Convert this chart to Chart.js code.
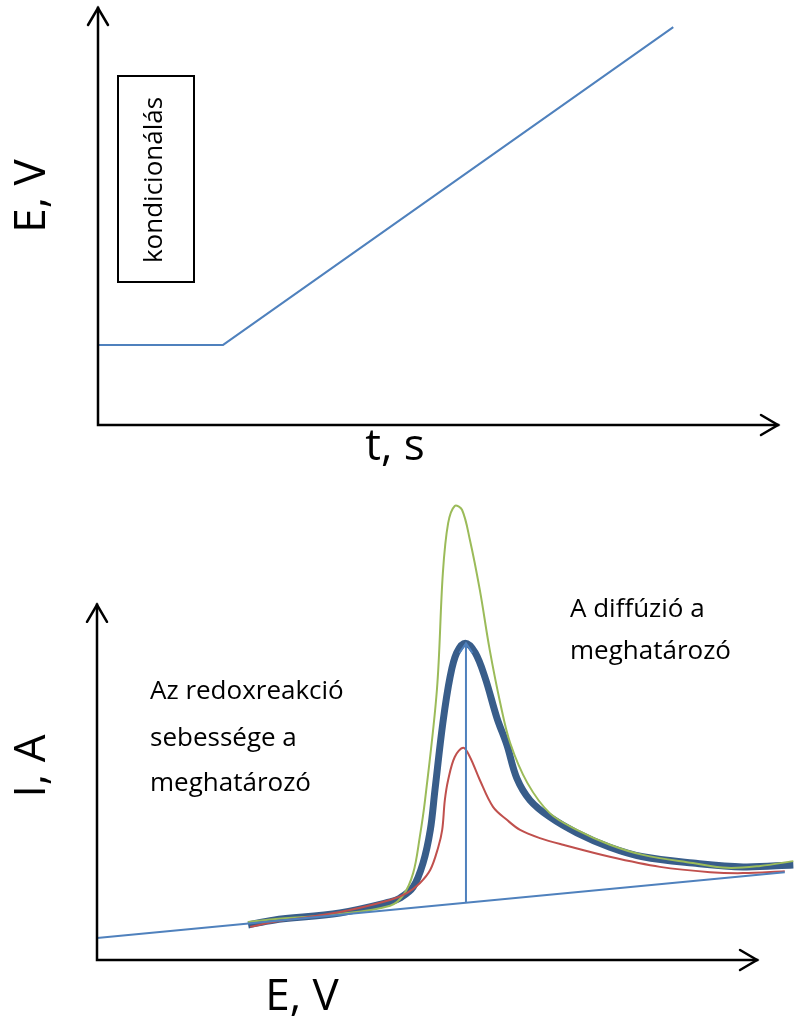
<!DOCTYPE html>
<html>
<head>
<meta charset="utf-8">
<script src="https://cdn.jsdelivr.net/npm/chart.js@4"></script>
<style>
    html, body { margin: 0; padding: 0; background: #fff; }
    #wrap { position: relative; width: 794px; height: 1018px; }
    canvas { position: absolute; left: 0; }
    #chart01 { top: 0; }
    #chart02 { top: 470px; }
</style>
</head>
<body>
<div id="wrap">
    <canvas id="chart01" width="794" height="470"></canvas>
    <canvas id="chart02" width="794" height="548"></canvas>
</div>
<script>
// potential program (top): t and E in relative units, 0..100
const ramp_t = [0, 18.4, 84.6];
const ramp_e = [19.2, 19.2, 95.4];

// voltammograms (bottom): E and I in relative units
const baseline_e = [0, 104.2];
const baseline_i = [4.6, 18.3];

const peak_e = [55.9, 55.9];
const peak_i = [11.9, 66.0];

const mid_e = [22.9, 26.7, 36.8, 44.4, 45.9, 47.9, 49.4, 50.5, 51.2, 52.4, 53.5, 54.5, 55.8, 57.3, 58.8, 60.6, 62.1, 63.6, 65.6, 68.6, 72.7, 77.7, 82.7, 90.3, 97.9, 105.5];
const mid_i = [7.3, 8.3, 9.8, 12.1, 12.9, 15.2, 20.2, 27.1, 35.4, 49.4, 59.0, 64.0, 66.0, 64.0, 58.8, 50.4, 44.8, 37.9, 33.3, 29.8, 26.5, 23.5, 21.5, 20.2, 19.4, 19.8];

const fast_e = [22.9, 26.7, 36.8, 44.4, 46.4, 47.9, 48.9, 49.7, 51.5, 52.4, 53.2, 54.2, 55.3, 56.5, 58.0, 59.5, 61.1, 62.6, 65.2, 68.6, 72.7, 77.7, 82.7, 90.3, 95.5, 100.5, 105.5];
const fast_i = [7.9, 8.5, 9.6, 11.3, 13.5, 18.1, 25.6, 33.3, 56.3, 80.6, 91.0, 94.6, 93.8, 87.5, 77.1, 64.6, 53.5, 45.2, 36.9, 30.6, 27.1, 24.0, 21.9, 20.2, 19.2, 19.6, 20.6];

const slow_e = [23.2, 26.7, 36.8, 44.4, 47.0, 48.9, 50.5, 51.7, 52.3, 52.7, 53.2, 54.2, 55.5, 56.5, 58.0, 60.0, 62.1, 64.1, 67.1, 70.6, 77.7, 85.3, 92.9, 97.9, 104.2];
const slow_i = [6.9, 7.9, 10.0, 12.5, 14.0, 16.0, 18.8, 23.5, 27.1, 33.3, 37.5, 42.3, 44.2, 42.3, 37.5, 31.9, 29.2, 27.1, 25.4, 24.0, 21.5, 19.4, 18.3, 18.1, 18.5];

const FONT = '"Open Sans", "Noto Sans", sans-serif';

function points(xs, ys) {
    return xs.map((x, i) => ({x: x, y: ys[i]}));
}

function arrow_head(ctx, x, y, dir, len, half) {
    ctx.beginPath();
    if (dir == 'up') {
        ctx.moveTo(x - half, y + len);
        ctx.lineTo(x, y);
        ctx.lineTo(x + half, y + len);
    } else {
        ctx.moveTo(x - len, y - half);
        ctx.lineTo(x, y);
        ctx.lineTo(x - len, y + half);
    }
    ctx.stroke();
}

function text(ctx, str, x, y, size, align, rotate) {
    ctx.save();
    ctx.translate(x, y);
    if (rotate) ctx.rotate(-Math.PI / 2);
    ctx.font = `${size}px ${FONT}`;
    ctx.fillStyle = '#000';
    ctx.textAlign = align;
    ctx.textBaseline = 'alphabetic';
    ctx.fillText(str, 0, 0);
    ctx.restore();
}

// axes with open arrow heads plus free text, drawn on top of the datasets
const decor = {
    id: 'decor',
    afterDraw(chart, args, opts) {
        const ctx = chart.ctx;
        const sx = chart.scales.x, sy = chart.scales.y;
        const x0 = sx.getPixelForValue(0), y0 = sy.getPixelForValue(0);
        const xEnd = sx.getPixelForValue(opts.xEnd), yEnd = sy.getPixelForValue(opts.yEnd);
        ctx.save();
        ctx.strokeStyle = '#000';
        ctx.lineWidth = 2.5;
        ctx.lineCap = 'square';
        ctx.beginPath();
        ctx.moveTo(x0, yEnd);
        ctx.lineTo(x0, y0);
        ctx.lineTo(xEnd, y0);
        ctx.stroke();
        ctx.lineCap = 'round';
        arrow_head(ctx, x0, yEnd, 'up', 17, 10);
        arrow_head(ctx, xEnd, y0, 'right', 17, 10);

        if (opts.box) {
            ctx.lineWidth = 2;
            ctx.strokeRect(...opts.box);
        }
        // small arrow at the top of the peak marker
        if (opts.peakArrow !== undefined) {
            const meta = chart.getDatasetMeta(opts.peakArrow);
            const p = meta.data[meta.data.length - 1];
            ctx.strokeStyle = '#4F81BD';
            ctx.lineWidth = 2;
            arrow_head(ctx, p.x, p.y, 'up', 9, 6);
        }
        ctx.restore();

        (opts.labels || []).forEach(l => text(ctx, l.text, l.x, l.y, l.size, l.align, l.rotate));
    }
};

function line(label, xs, ys, color, width, tension) {
    return {
        label: label,
        data: points(xs, ys),
        borderColor: color,
        borderWidth: width,
        pointRadius: 0,
        fill: false,
        clip: false,
        tension: tension,
        borderCapStyle: 'butt',
        borderJoinStyle: 'round'
    };
}

function chart(id, datasets, scales, padding, decorOpts) {
    new Chart(
        document.getElementById(id),
        {
            type: 'line',
            data: {
                datasets: datasets
            },
            options: {
                responsive: false,
                animation: false,
                layout: {
                    padding: padding
                },
                plugins: {
                    legend: {display: false},
                    tooltip: {enabled: false},
                    decor: decorOpts
                },
                scales: scales
            },
            plugins: [decor]
        }
    );
}

chart('chart01',
    [line('E(t)', ramp_t, ramp_e, '#4F81BD', 2, 0)],
    {
        x: {type: 'linear', min: 0, max: 100, display: false},
        y: {type: 'linear', min: 0, max: 100, display: false}
    },
    {left: 98, right: 16, top: 8, bottom: 45},
    {
        xEnd: 100, yEnd: 100,
        box: [118, 76, 76, 206],
        labels: [
            {text: 'E, V', x: 45, y: 196, size: 44, align: 'center', rotate: true},
            {text: 't, s', x: 395, y: 460, size: 44, align: 'center'},
            {text: 'kondicionálás', x: 162, y: 180, size: 26, align: 'center', rotate: true}
        ]
    }
);

chart('chart02',
    [
        line('csúcs', peak_e, peak_i, '#4F81BD', 2, 0),
        line('alapvonal', baseline_e, baseline_i, '#4F81BD', 2, 0),
        line('lassú', slow_e, slow_i, '#C0504D', 2, 0.35),
        line('gyors', fast_e, fast_i, '#9BBB59', 2, 0.35),
        line('közepes', mid_e, mid_i, '#385D8A', 7, 0.35)
    ],
    {
        x: {type: 'linear', min: 0, max: 105.6, display: false},
        y: {type: 'linear', min: 0, max: 100, display: false}
    },
    {left: 97, right: 0, top: 10, bottom: 58},
    {
        xEnd: 100, yEnd: 74,
        peakArrow: 0,
        labels: [
            {text: 'I, A', x: 45, y: 296, size: 44, align: 'center', rotate: true},
            {text: 'E, V', x: 302, y: 540, size: 44, align: 'center'},
            {text: 'Az redoxreakció', x: 150, y: 229, size: 26, align: 'left'},
            {text: 'sebessége a', x: 150, y: 276, size: 26, align: 'left'},
            {text: 'meghatározó', x: 150, y: 321, size: 26, align: 'left'},
            {text: 'A diffúzió a', x: 570, y: 147, size: 26, align: 'left'},
            {text: 'meghatározó', x: 570, y: 189, size: 26, align: 'left'}
        ]
    }
);
</script>
</body>
</html>
